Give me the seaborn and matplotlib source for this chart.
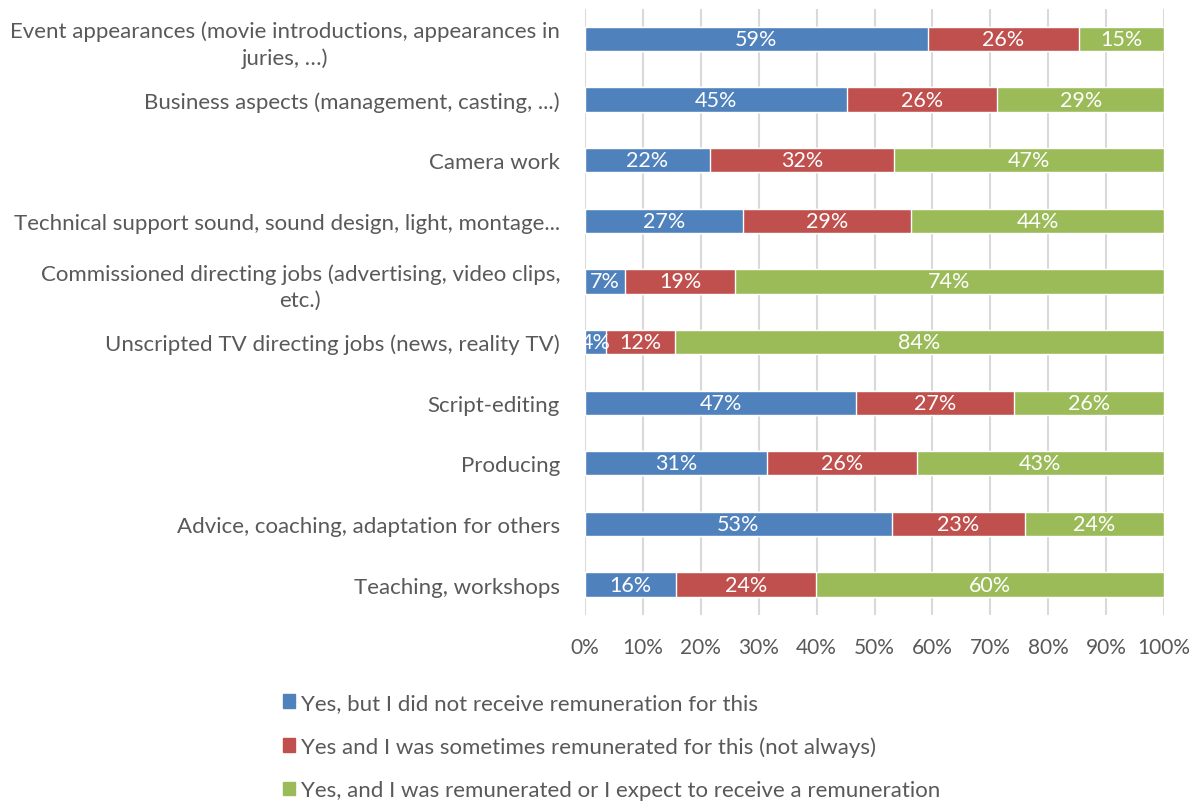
import matplotlib
matplotlib.use("Agg")
import matplotlib.pyplot as plt
import matplotlib.patches as mpatches
import seaborn as sns
import pandas as pd

# data (percent)
categories = [
    "Event appearances (movie introductions, appearances in\njuries, …)",
    "Business aspects (management, casting, ...)",
    "Camera work",
    "Technical support sound, sound design, light, montage...",
    "Commissioned directing jobs (advertising, video clips,\netc.)",
    "Unscripted TV directing jobs (news, reality TV)",
    "Script-editing",
    "Producing",
    "Advice, coaching, adaptation for others",
    "Teaching, workshops",
]
no_pay = [59.2, 45.2, 21.6, 27.2, 6.9, 3.6, 46.8, 31.4, 53.0, 15.7]
sometimes = [26.1, 26.0, 31.8, 29.1, 19.0, 11.9, 27.3, 25.9, 23.0, 24.2]
paid = [14.7, 28.8, 46.6, 43.7, 74.1, 84.5, 25.9, 42.7, 24.0, 60.1]

series_names = [
    "Yes, but I did not receive remuneration for this",
    "Yes and I was sometimes remunerated for this (not always)",
    "Yes, and I was remunerated or I expect to receive a remuneration",
]
colors = ["#4f81bd", "#c0504d", "#9bbb59"]
text_col = "#595959"

df = pd.DataFrame({"cat": categories, "a": no_pay, "b": sometimes, "c": paid})
df["ab"] = df["a"] + df["b"]
df["abc"] = df["ab"] + df["c"]

sns.set_style("white")
plt.rcParams["font.family"] = ["Lato", "DejaVu Sans"]

fig = plt.figure(figsize=(12.02, 8.03), dpi=100)
ax = fig.add_axes([0.4867, 0.233, 0.4817, 0.755])

# stacked bars: draw cumulative totals back to front
sns.barplot(data=df, y="cat", x="abc", color=colors[2], width=0.4, ax=ax, saturation=1)
sns.barplot(data=df, y="cat", x="ab", color=colors[1], width=0.4, ax=ax, saturation=1)
sns.barplot(data=df, y="cat", x="a", color=colors[0], width=0.4, ax=ax, saturation=1)

# data labels
for i, row in df.iterrows():
    starts = [0, row["a"], row["ab"]]
    for s, v in zip(starts, [row["a"], row["b"], row["c"]]):
        ax.text(s + v / 2, i, f"{v:.0f}%", ha="center", va="center",
                color="white", fontsize=15.5)

ax.set_xlim(0, 100)
ax.set_xticks(range(0, 101, 10))
ax.set_xticklabels([f"{t}%" for t in range(0, 101, 10)])
ax.set_xlabel("")
ax.set_ylabel("")
ax.xaxis.grid(True, color="#d9d9d9", linewidth=1.5)
ax.set_axisbelow(True)
for sp in ax.spines.values():
    sp.set_visible(False)
ax.tick_params(axis="x", colors=text_col, labelsize=15, length=0, pad=16)
ax.tick_params(axis="y", colors=text_col, labelsize=16, length=0, pad=18)
for lab in ax.get_yticklabels():
    lab.set_multialignment("center")
    lab.set_linespacing(1.4)

handles = [mpatches.Patch(color=c, label=n) for c, n in zip(colors, series_names)]
fig.legend(handles=handles, loc="upper left", bbox_to_anchor=(0.228, 0.147),
           frameon=False, fontsize=16, labelcolor=text_col, handlelength=0.55,
           handleheight=0.55, handletextpad=0.25, labelspacing=1.05, borderaxespad=0)

fig.savefig("out.png", dpi=100)
